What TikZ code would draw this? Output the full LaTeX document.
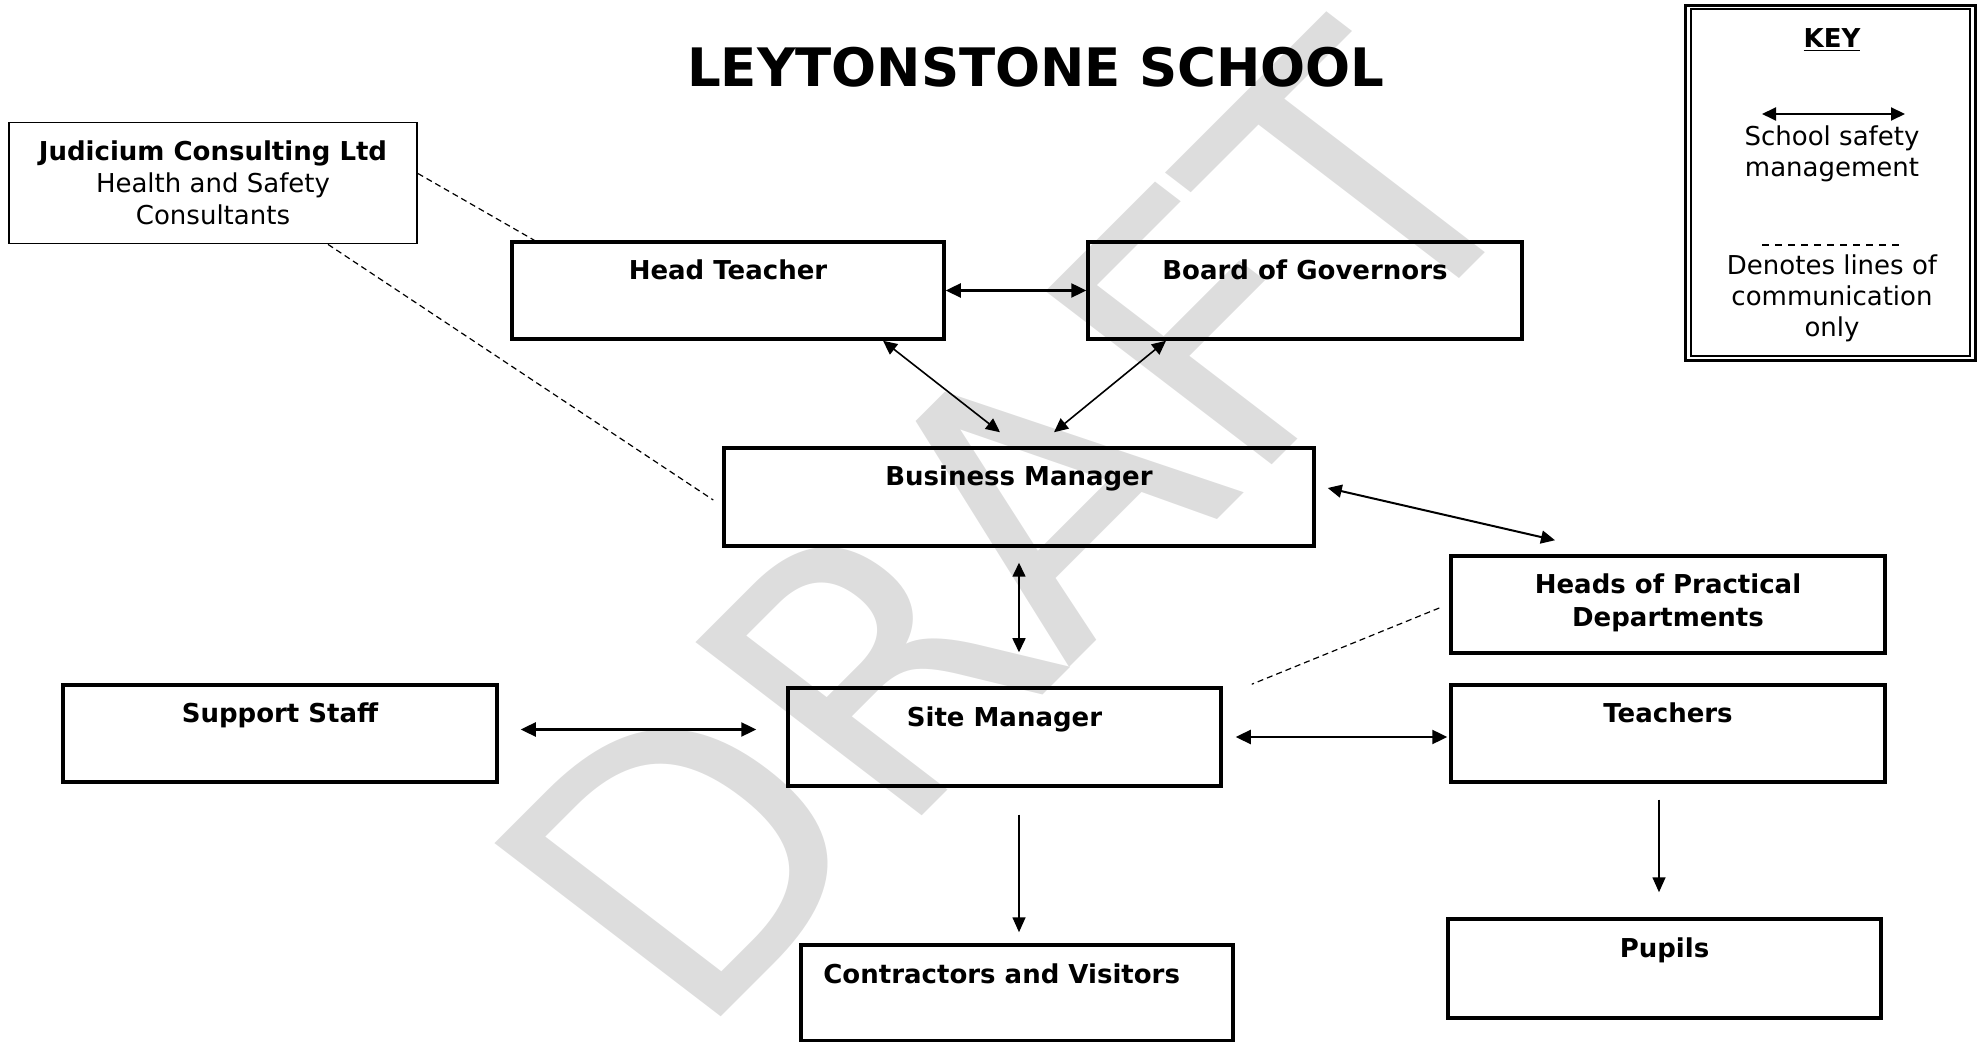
\documentclass[tikz,border=0pt]{standalone}
\usepackage{fontspec}
\setmainfont{DejaVu Sans}
\usetikzlibrary{arrows.meta,calc}
\definecolor{wmgray}{RGB}{221,221,221}
\begin{document}
\begin{tikzpicture}[x=0.5pt,y=-0.5pt,
  box/.style={draw, line width=1.75pt, minimum height=48.5pt, inner sep=0pt},
  lbl/.style={font=\bfseries\fontsize{13}{16.5}\selectfont, anchor=base, inner sep=0pt, align=center},
  keytxt/.style={font=\fontsize{13}{15.5}\selectfont, anchor=base, inner sep=0pt, align=center},
  onearrow/.style={line width=0.8pt, -{Triangle[length=7.5pt,width=6.5pt]}},
  twoarrow/.style={line width=0.8pt, {Triangle[length=7pt,width=6.5pt]}-{Triangle[length=7pt,width=6.5pt]}},
  twoarrowthick/.style={line width=1.2pt, {Triangle[length=7.5pt,width=7pt]}-{Triangle[length=7.5pt,width=7pt]}},
  commline/.style={line width=0.6pt, dash pattern=on 3pt off 2pt}]
\useasboundingbox (0,0) rectangle (1977,1042);
% watermark
\begin{scope}
\clip (0,0) rectangle (1977,1042);
\begin{scope}[shift={(694.8,1042.9)}, cm={0.654,0.654,-0.776,0.594,(0,0)}]
\node[transform shape, font=\fontsize{200}{200}\selectfont, text=wmgray, anchor=base west, inner sep=0pt] (draft) at (0,0) {DRAFT};
\end{scope}
\end{scope}
% title
\node[font=\bfseries\fontsize{26.5}{30}\selectfont, anchor=base, inner sep=0pt] (title) at (1036,87) {LEYTONSTONE SCHOOL};
% boxes
\node[draw, line width=0.9pt, minimum width=204pt, minimum height=60.5pt, inner sep=0pt] (jc) at (213,183) {};
\node[box, minimum width=216pt] (ht) at (728,290.5) {};
\node[box, minimum width=217pt] (bg) at (1305,290.5) {};
\node[box, minimum width=295pt, minimum height=49pt] (bm) at (1019,497) {};
\node[box, minimum width=217pt] (hp) at (1668,604.5) {};
\node[box, minimum width=217pt] (ss) at (280,733.5) {};
\node[box, minimum width=216.5pt, minimum height=49pt] (sm) at (1004.5,737) {};
\node[box, minimum width=217pt] (te) at (1668,733.5) {};
\node[box, minimum width=216pt, minimum height=48pt] (cv) at (1017,993) {};
\node[box, minimum width=216.5pt, minimum height=49.5pt] (pu) at (1664.5,968.5) {};
% labels (anchor base = baseline of last line)
\node[keytxt, font=\fontsize{13}{16}\selectfont] (jct) at (213,225) {\textbf{Judicium Consulting Ltd}\\Health and Safety\\Consultants};
\node[lbl] (htt) at (728,280) {Head Teacher};
\node[lbl] (bgt) at (1305,280) {Board of Governors};
\node[lbl] (bmt) at (1019,486) {Business Manager};
\node[lbl] (hpt) at (1668,627) {Heads of Practical\\Departments};
\node[lbl] (sst) at (280,723) {Support Staff};
\node[lbl] (smt) at (1004.5,726) {Site Manager};
\node[lbl] (tet) at (1668,723) {Teachers};
\node[lbl, anchor=base west] (cvt) at (823,983) {Contractors and Visitors};
\node[lbl] (put) at (1664.5,957) {Pupils};
% connectors
\draw[twoarrowthick] (ht.east) -- (bg.west);
\draw[twoarrow] ([xshift=77.5pt]ht.south) -- ([xshift=-9.5pt,yshift=7pt]bm.north);
\draw[twoarrow] ([xshift=-69.5pt]bg.south) -- ([xshift=17.5pt,yshift=7pt]bm.north);
\draw[twoarrow, line width=1pt] ([xshift=6pt,yshift=4.5pt]bm.east) -- ([xshift=-56.5pt,yshift=7pt]hp.north);
\draw[twoarrow, shorten <=7.5pt, shorten >=17pt] (bm.south) -- (bm.south |- sm.north);
\draw[twoarrowthick, shorten <=11pt, shorten >=15pt] ([yshift=2pt]ss.east) -- ([yshift=2pt]ss.east -| sm.west);
\draw[twoarrowthick, shorten <=6.5pt, shorten >=1pt] (sm.east) -- (sm.east -| te.west);
\draw[onearrow, shorten <=13.5pt, shorten >=5.5pt] ([xshift=7.25pt]sm.south) -- ([xshift=7.25pt]sm.south |- cv.north);
\draw[onearrow, shorten <=8pt, shorten >=12.5pt] ([xshift=-4.5pt]te.south) -- ([xshift=-4.5pt]te.south |- pu.north);
\draw[commline] ([xshift=-5pt,yshift=-1.75pt]hp.west) -- ([xshift=14.5pt,yshift=1pt]sm.north east);
\draw[commline] ([yshift=4.75pt]jc.east) -- ([xshift=12pt]ht.north west);
\draw[commline] ([xshift=57.5pt]jc.south) -- ([xshift=-4.5pt,yshift=-1.5pt]bm.west);
% key
\node[draw, line width=1.5pt, minimum width=145pt, minimum height=177.5pt, inner sep=0pt] (key) at (1830,183.5) {};
\draw[line width=1pt] ([shift={(3.5pt,-2.5pt)}]key.north west) rectangle ([shift={(-3.5pt,3pt)}]key.south east);
\node[keytxt, font=\bfseries\fontsize{13}{15.5}\selectfont] (keyt) at (1832,48) {\underline{KEY}};
\coordinate (ka) at (1762,114);
\coordinate (kb) at (1905,114);
\draw[twoarrow, line width=1pt] (ka) -- (kb);
\node[keytxt] (k1) at (1832,177) {School safety\\management};
\coordinate (kc) at (1762,245);
\coordinate (kd) at (1904,245);
\draw[line width=0.6pt, dash pattern=on 3.5pt off 3pt] (kc) -- (kd);
\node[keytxt] (k2) at (1832,337) {Denotes lines of\\communication\\only};
\end{tikzpicture}
\end{document}
